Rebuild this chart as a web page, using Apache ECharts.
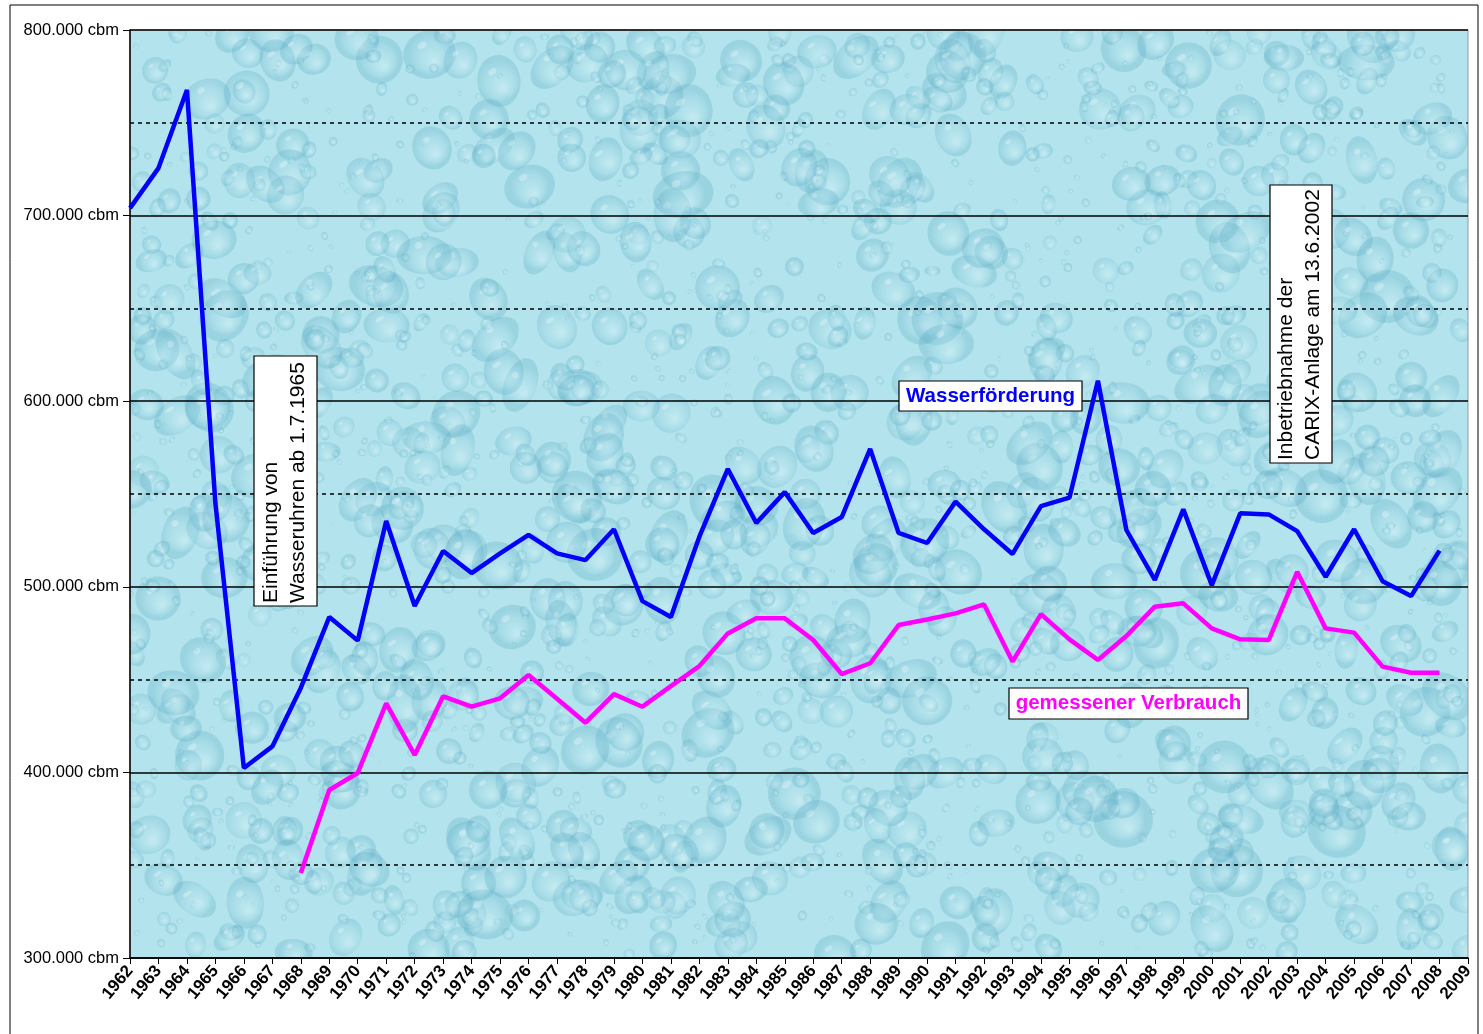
<!DOCTYPE html>
<html><head><meta charset="utf-8">
<script src="https://cdn.jsdelivr.net/npm/echarts@6/dist/echarts.min.js"></script>
<style>html,body{margin:0;padding:0;background:#fff}#c{width:1483px;height:1034px}</style>
</head><body><div id="c"></div>
<script>
var years = [];
for (var y = 1962; y <= 2009; y++) years.push(String(y));

var wasserfoerderung = [704000,725600,767700,545000,402400,414000,445500,483700,471000,535500,
489700,519300,507400,518000,528000,518000,514400,531000,492300,483700,
527000,563500,534400,551000,529000,537600,574300,529000,523600,545900,
531000,517700,543500,548000,611000,530600,503700,541700,500900,539600,
539000,530000,505400,531000,503000,495000,519500,null];

var verbrauch = [null,null,null,null,null,null,345800,390500,399700,437200,
409400,441000,435400,439900,452500,439700,426800,442200,435400,446500,
457300,474900,483000,483000,471300,453000,458800,479400,482400,485700,
490500,459700,485300,471700,460600,473500,489300,491100,477600,471700,
471300,508100,477600,475300,457000,453700,453700,null];

var yMin = 300000, yMax = 800000, yStep = 100000;

var G = {left:130, top:30, right:15, bottom:76};
var W = 1483, H = 1034;
var pw = W - G.left - G.right, ph = H - G.top - G.bottom;

// decorative water-drop texture
var cv = document.createElement('canvas');
cv.width = pw; cv.height = ph;
var cx = cv.getContext('2d');
cx.fillStyle = '#b3e3ec'; cx.fillRect(0,0,pw,ph);
var seed = 12345;
function rnd(){ seed = (seed*1103515245 + 12345) % 2147483648; return seed/2147483648; }
for (var i=0;i<2200;i++){
  var px = rnd()*pw, py = rnd()*ph;
  var r = 2 + Math.pow(rnd(),2.0)*20;
  var rx = r*(0.8+rnd()*0.5), ry = r*(0.8+rnd()*0.6);
  var g = cx.createRadialGradient(px + rx*0.2, py + ry*0.3, r*0.1, px, py, r);
  g.addColorStop(0,'rgba(235,250,252,0.25)');
  g.addColorStop(0.6,'rgba(140,205,222,0.22)');
  g.addColorStop(1,'rgba(90,170,195,0.28)');
  cx.fillStyle = g;
  cx.beginPath(); cx.ellipse(px,py,rx,ry,rnd()*Math.PI,0,Math.PI*2); cx.fill();
  cx.fillStyle='rgba(255,255,255,0.28)';
  cx.beginPath(); cx.ellipse(px-rx*0.3,py-ry*0.35,rx*0.2,ry*0.12,-0.6,0,Math.PI*2); cx.fill();
}

var chart = echarts.init(document.getElementById('c'), null, {renderer:'canvas'});
chart.setOption({
  backgroundColor:'#fff',
  animation:false,
  grid:{left:G.left, top:G.top, right:G.right, bottom:G.bottom, show:true, borderColor:'#999', borderWidth:1, backgroundColor:'transparent'},
  xAxis:{
    type:'category', data:years, boundaryGap:false,
    axisLine:{lineStyle:{color:'#000', width:1.5}},
    axisTick:{show:true, interval:0, length:6, lineStyle:{color:'#000'}},
    axisLabel:{interval:0, rotate:50, fontFamily:'"Liberation Sans Narrow", "Arial Narrow", Arial, "Liberation Sans"', fontWeight:'bold', fontSize:17, color:'#000', margin:10},
    splitLine:{show:false}
  },
  yAxis:{
    type:'value', min:yMin, max:yMax, interval:yStep,
    axisLine:{show:true, lineStyle:{color:'#000', width:1.5}},
    axisTick:{show:true, length:7, lineStyle:{color:'#000'}},
    axisLabel:{fontFamily:'Arial, "Liberation Sans"', fontSize:16.5, color:'#000', margin:11,
      formatter:function(v){ return (v/1000).toFixed(0) + '.000 cbm'; }},
    splitLine:{show:true, lineStyle:{color:'#000', width:1.5}},
    minorTick:{show:false, splitNumber:2},
    minorSplitLine:{show:true, lineStyle:{color:'#000', width:1.5, type:[4,4]}}
  },
  series:[
    {name:'Wasserförderung', type:'line', data:wasserfoerderung, showSymbol:false, symbol:'none',
      lineStyle:{color:'#0000ff', width:4.5}, z:5},
    {name:'gemessener Verbrauch', type:'line', data:verbrauch, showSymbol:false, symbol:'none',
      lineStyle:{color:'#ff00ff', width:4.5}, z:4}
  ],
  graphic:[
    {type:'image', z:-10, style:{image:cv, x:G.left, y:G.top, width:pw, height:ph}, silent:true},
    {type:'rect', shape:{x:10, y:5, width:1468, height:1040}, style:{fill:'none', stroke:'#000', lineWidth:1}, silent:true},
    // annotation 1
    {type:'rect', z:20, shape:{x:254, y:356, width:63, height:250}, style:{fill:'#fff', stroke:'#000', lineWidth:1.2}},
    {type:'text', z:21, x:284.5, y:603, rotation:Math.PI/2,
      style:{text:'Einführung von\nWasseruhren ab 1.7.1965', font:'21px Arial, "Liberation Sans"', fill:'#000',
        textAlign:'left', textVerticalAlign:'middle', lineHeight:27}},
    // annotation 2
    {type:'rect', z:20, shape:{x:1270, y:185, width:62, height:278}, style:{fill:'#fff', stroke:'#000', lineWidth:1.2}},
    {type:'text', z:21, x:1300, y:460, rotation:Math.PI/2,
      style:{text:'Inbetriebnahme der\nCARIX-Anlage am 13.6.2002', font:'21px Arial, "Liberation Sans"', fill:'#000',
        textAlign:'left', textVerticalAlign:'middle', lineHeight:27}},
    // series labels
    {type:'rect', z:20, shape:{x:899, y:381, width:183, height:30}, style:{fill:'#fff', stroke:'#000', lineWidth:1.2}},
    {type:'text', z:21, x:990.5, y:396,
      style:{text:'Wasserförderung', font:'bold 20.5px Arial, "Liberation Sans"', fill:'#0000ff', textAlign:'center', textVerticalAlign:'middle'}},
    {type:'rect', z:20, shape:{x:1009, y:688, width:239, height:31}, style:{fill:'#fff', stroke:'#000', lineWidth:1.2}},
    {type:'text', z:21, x:1128.5, y:703.5,
      style:{text:'gemessener Verbrauch', font:'bold 20.5px Arial, "Liberation Sans"', fill:'#ff00ff', textAlign:'center', textVerticalAlign:'middle'}}
  ]
});
</script></body></html>
